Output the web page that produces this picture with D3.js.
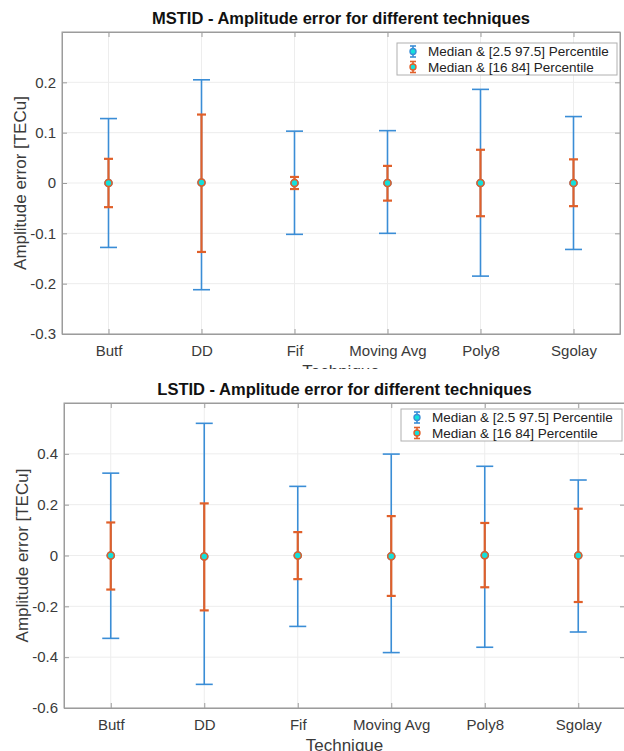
<!DOCTYPE html>
<html>
<head>
<meta charset="utf-8">
<script src="https://cdn.jsdelivr.net/npm/d3@7"></script>
<style>
  body { margin: 0; background: #fff; }
  svg text { font-family: "Liberation Sans", Arial, sans-serif; }
</style>
</head>
<body>
<script>

// categories
var techniques = ["Butf", "DD", "Fif", "Moving Avg", "Poly8", "Sgolay"];

// MSTID values
var mstidMedian = [0, 0.001, 0, 0, 0, 0];
var mstidLo95 = [-0.128, -0.212, -0.102, -0.100, -0.185, -0.132];
var mstidHi95 = [0.128, 0.205, 0.103, 0.104, 0.186, 0.132];
var mstidLo68 = [-0.048, -0.137, -0.012, -0.035, -0.066, -0.046];
var mstidHi68 = [0.048, 0.136, 0.012, 0.034, 0.066, 0.047];
var mstidTicks = [-0.3, -0.2, -0.1, 0, 0.1, 0.2];

// LSTID values
var lstidMedian = [0, -0.004, 0, -0.003, 0.001, 0];
var lstidLo95 = [-0.326, -0.507, -0.279, -0.382, -0.361, -0.301];
var lstidHi95 = [0.324, 0.520, 0.272, 0.399, 0.351, 0.297];
var lstidLo68 = [-0.134, -0.216, -0.093, -0.159, -0.125, -0.183];
var lstidHi68 = [0.130, 0.205, 0.092, 0.155, 0.128, 0.184];
var lstidTicks = [-0.6, -0.4, -0.2, 0, 0.2, 0.4];

var legendLabels = ["Median & [2.5 97.5] Percentile", "Median & [16 84] Percentile"];

var blue = "#3a8dd6", orange = "#e0602a", cyan = "#14e0dc";
var axisCol = "#9c9c9c", gridCol = "#ededed", textCol = "#3a3a3a";

var svg = d3.select("body").append("svg")
	.attr("width", 624)
	.attr("height", 751);

function drawPanel(p) {
	var g = svg.append("g");

	// white background (covers anything from the panel above)
	g.append("rect")
		.attr("x", 0).attr("y", p.bgTop)
		.attr("width", 624).attr("height", p.bgBottom - p.bgTop)
		.attr("fill", "#fff");

	var x = d3.scaleLinear().domain([0.5, 6.5]).range([p.left, p.right]);
	var y = d3.scaleLinear().domain(p.domain).range([p.bottom, p.top]);

	// grid
	g.selectAll(".hgrid").data(p.ticks).enter().append("line")
		.attr("x1", p.left).attr("x2", p.right)
		.attr("y1", function (d) { return y(d); })
		.attr("y2", function (d) { return y(d); })
		.attr("stroke", gridCol);
	g.selectAll(".vgrid").data(techniques).enter().append("line")
		.attr("x1", function (d, i) { return x(i + 1); })
		.attr("x2", function (d, i) { return x(i + 1); })
		.attr("y1", p.top).attr("y2", p.bottom)
		.attr("stroke", gridCol);

	// axes
	var xAxis = d3.axisBottom(x).tickValues([1, 2, 3, 4, 5, 6])
		.tickFormat(function (d) { return techniques[d - 1]; })
		.tickSizeInner(-5).tickSizeOuter(0).tickPadding(11);
	var yAxis = d3.axisLeft(y).tickValues(p.ticks)
		.tickFormat(function (d) { return String(d); })
		.tickSizeInner(-5).tickSizeOuter(0).tickPadding(6);

	g.append("g").attr("transform", "translate(0," + p.bottom + ")").call(xAxis);
	g.append("g").attr("transform", "translate(" + p.left + ",0)").call(yAxis);
	// mirrored ticks on top and right
	g.append("g").attr("transform", "translate(0," + p.top + ")")
		.call(d3.axisTop(x).tickValues([1, 2, 3, 4, 5, 6]).tickFormat("").tickSizeInner(-5).tickSizeOuter(0));
	g.append("g").attr("transform", "translate(" + p.right + ",0)")
		.call(d3.axisRight(y).tickValues(p.ticks).tickFormat("").tickSizeInner(-5).tickSizeOuter(0));

	g.selectAll(".domain").attr("stroke", axisCol);
	g.selectAll(".tick line").attr("stroke", axisCol);
	g.selectAll(".tick text").attr("fill", textCol).style("font-size", "15px");
	g.append("rect")
		.attr("x", p.left).attr("y", p.top)
		.attr("width", p.right - p.left).attr("height", p.bottom - p.top)
		.attr("fill", "none").attr("stroke", axisCol);

	// title
	g.append("text")
		.attr("x", (p.left + p.right) / 2)
		.attr("y", p.top - 8)
		.attr("text-anchor", "middle")
		.style("font-size", "16.5px").style("font-weight", "bold")
		.attr("fill", "#111")
		.text(p.title);

	// axis labels
	g.append("text")
		.attr("transform", "translate(" + (p.left - 36) + "," + ((p.top + p.bottom) / 2) + ") rotate(-90)")
		.attr("text-anchor", "middle")
		.style("font-size", "17px")
		.attr("fill", textCol)
		.text("Amplitude error [TECu]");
	g.append("text")
		.attr("x", (p.left + p.right) / 2)
		.attr("y", p.bottom + 43)
		.attr("text-anchor", "middle")
		.style("font-size", "17px")
		.attr("fill", textCol)
		.text("Technique");

	// error bars
	function bars(lo, hi, col, lw, cap) {
		var eg = g.append("g");
		techniques.forEach(function (t, i) {
			var cx = x(i + 1);
			eg.append("line")
				.attr("x1", cx).attr("x2", cx)
				.attr("y1", y(lo[i])).attr("y2", y(hi[i]))
				.attr("stroke", col).attr("stroke-width", lw);
			[lo[i], hi[i]].forEach(function (v) {
				eg.append("line")
					.attr("x1", cx - cap).attr("x2", cx + cap)
					.attr("y1", y(v)).attr("y2", y(v))
					.attr("stroke", col).attr("stroke-width", lw);
			});
			eg.append("circle")
				.attr("cx", cx).attr("cy", y(p.median[i]))
				.attr("r", 3.5)
				.attr("fill", cyan)
				.attr("stroke", col).attr("stroke-width", 1.6);
		});
	}
	bars(p.lo95, p.hi95, blue, 1.6, 8.5);
	bars(p.lo68, p.hi68, orange, 2.2, 4.5);

	// legend
	var lg = g.append("g");
	lg.append("rect")
		.attr("x", p.legX).attr("y", p.legY)
		.attr("width", p.right - 3 - p.legX).attr("height", 32)
		.attr("fill", "#fff").attr("stroke", "#b0b0b0");
	[blue, orange].forEach(function (col, k) {
		var ly = p.legY + 8.5 + k * 15.5;
		var mx = p.legX + 16;
		lg.append("line")
			.attr("x1", mx).attr("x2", mx).attr("y1", ly - 5.5).attr("y2", ly + 5.5)
			.attr("stroke", col).attr("stroke-width", 1.6);
		[ly - 5.5, ly + 5.5].forEach(function (cy) {
			lg.append("line")
				.attr("x1", mx - 3).attr("x2", mx + 3).attr("y1", cy).attr("y2", cy)
				.attr("stroke", col).attr("stroke-width", 1.6);
		});
		lg.append("circle")
			.attr("cx", mx).attr("cy", ly).attr("r", 3)
			.attr("fill", cyan).attr("stroke", col).attr("stroke-width", 1.4);
		lg.append("text")
			.attr("x", p.legX + 31).attr("y", ly + 4.5)
			.style("font-size", "13.5px")
			.attr("fill", "#222")
			.text(legendLabels[k]);
	});
}

drawPanel({
	title: "MSTID - Amplitude error for different techniques",
	top: 32, bottom: 334, left: 62, right: 620,
	domain: [-0.3, 0.3], ticks: mstidTicks,
	median: mstidMedian, lo95: mstidLo95, hi95: mstidHi95, lo68: mstidLo68, hi68: mstidHi68,
	legX: 397, legY: 43,
	bgTop: 0, bgBottom: 369
});

drawPanel({
	title: "LSTID - Amplitude error for different techniques",
	top: 403, bottom: 708, left: 64, right: 625,
	domain: [-0.6, 0.6], ticks: lstidTicks,
	median: lstidMedian, lo95: lstidLo95, hi95: lstidHi95, lo68: lstidLo68, hi68: lstidHi68,
	legX: 401, legY: 409,
	bgTop: 369, bgBottom: 751
});

</script>
</body>
</html>
